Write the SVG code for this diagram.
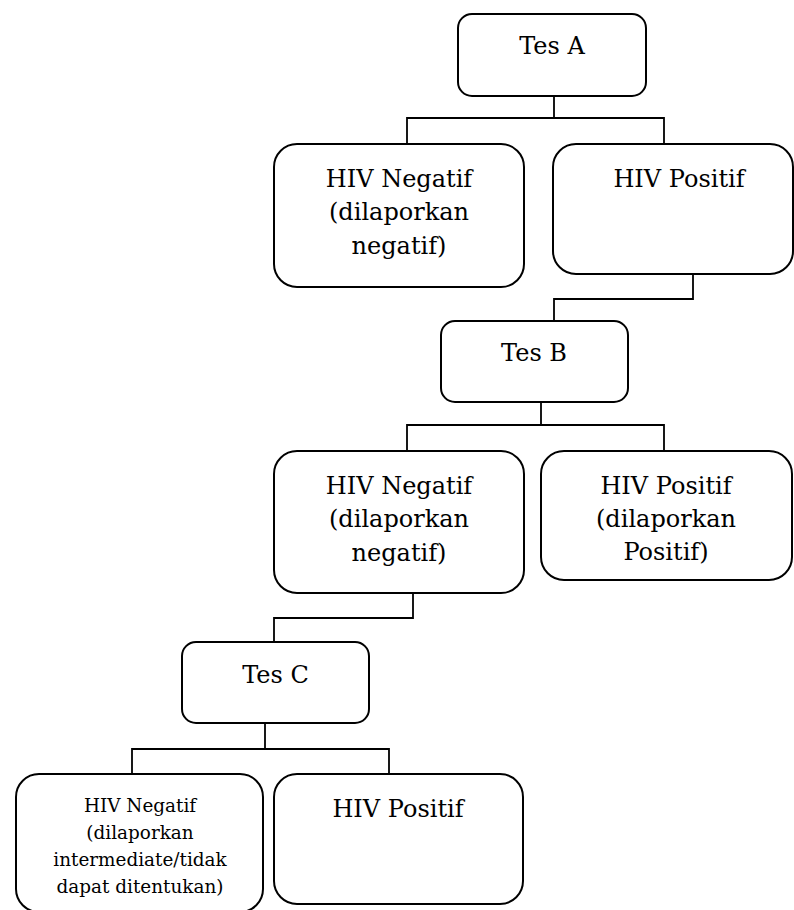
<svg xmlns="http://www.w3.org/2000/svg" width="794" height="910" viewBox="0 0 794 910">
<style>
.box{fill:#fff;stroke:#000;stroke-width:2}
.conn{fill:none;stroke:#000;stroke-width:1.8}
text{font-family:"DejaVu Serif",serif;fill:#000;text-anchor:middle}
.t{font-size:24px}
.s{font-size:18.4px}
</style>
<rect width="794" height="910" fill="#fff"/>
<g id="connectors">
<path class="conn" d="M554,96 V118 M407,144 V118 H664 V144"/>
<path class="conn" d="M693,274 V299 H554 V321"/>
<path class="conn" d="M541,402 V425 M407,451 V425 H664 V451"/>
<path class="conn" d="M413,593 V618 H274 V642"/>
<path class="conn" d="M265,723 V749 M132,774 V749 H389 V774"/>
</g>
<g id="tesA">
<rect class="box" x="458" y="14" width="188" height="82" rx="14"/>
<text class="t" x="552" y="54">Tes A</text>
</g>
<g id="negA">
<rect class="box" x="274" y="144" width="250" height="143" rx="23"/>
<text class="t" x="399" y="187">HIV Negatif</text>
<text class="t" x="399" y="220">(dilaporkan</text>
<text class="t" x="399" y="254">negatif)</text>
</g>
<g id="posA">
<rect class="box" x="553" y="144" width="240" height="130" rx="23"/>
<text class="t" x="679" y="187">HIV Positif</text>
</g>
<g id="tesB">
<rect class="box" x="441" y="321" width="187" height="81" rx="14"/>
<text class="t" x="534" y="361">Tes B</text>
</g>
<g id="negB">
<rect class="box" x="274" y="451" width="250" height="142" rx="23"/>
<text class="t" x="399" y="494">HIV Negatif</text>
<text class="t" x="399" y="527">(dilaporkan</text>
<text class="t" x="399" y="561">negatif)</text>
</g>
<g id="posB">
<rect class="box" x="541" y="451" width="251" height="129" rx="23"/>
<text class="t" x="666" y="494">HIV Positif</text>
<text class="t" x="666" y="527">(dilaporkan</text>
<text class="t" x="666" y="560">Positif)</text>
</g>
<g id="tesC">
<rect class="box" x="182" y="642" width="187" height="81" rx="14"/>
<text class="t" x="275.5" y="683">Tes C</text>
</g>
<g id="negC">
<rect class="box" x="16" y="774" width="247" height="138" rx="23"/>
<text class="s" x="140" y="812">HIV Negatif</text>
<text class="s" x="140" y="839">(dilaporkan</text>
<text class="s" x="140" y="866">intermediate/tidak</text>
<text class="s" x="140" y="893">dapat ditentukan)</text>
</g>
<g id="posC">
<rect class="box" x="274" y="774" width="249" height="130" rx="23"/>
<text class="t" x="398" y="817">HIV Positif</text>
</g>
</svg>
